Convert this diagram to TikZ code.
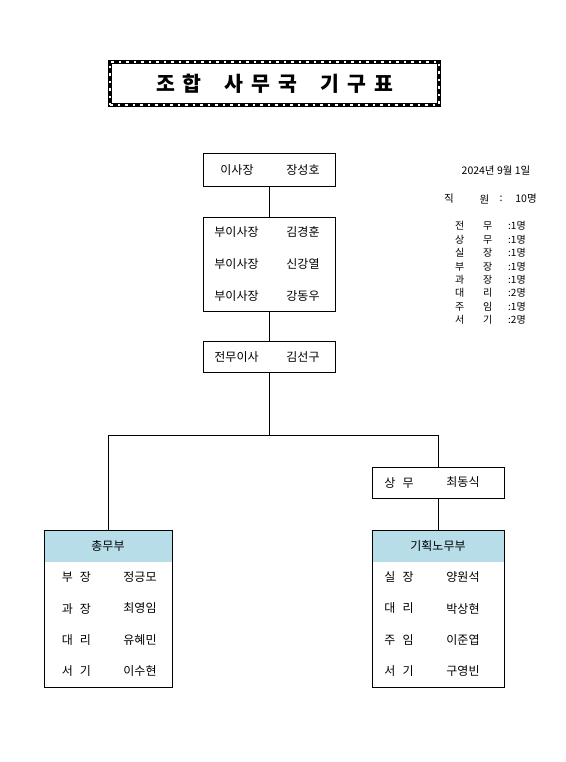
\documentclass[tikz,border=0pt]{standalone}
\usepackage{fontspec}
\setmainfont{Noto Sans CJK KR}
\usetikzlibrary{positioning}
\definecolor{headblue}{RGB}{183,221,232}
\newcommand{\kgap}{\hspace{7pt}}
\newcommand{\tgap}{\hspace{8pt}}
\newcommand{\wgap}{\hspace{23pt}}
\newcommand{\staffrow}[3]{\makebox[28pt][l]{#1}\makebox[25pt][l]{#2}:#3명}

\begin{document}
\begin{tikzpicture}[x=1pt, y=-1pt,
  box/.style={rectangle, draw=black, line width=1pt, inner sep=0pt, minimum width=132pt},
  headbox/.style={rectangle, fill=headblue, inner sep=0pt, minimum height=32pt,
    font=\fontsize{12}{14}\selectfont},
  titlebox/.style={rectangle, draw=black, line width=4pt, inner sep=0pt,
    minimum width=329pt, minimum height=43pt, font=\fontsize{20.5}{22}\selectfont\bfseries,
    postaction={draw=white, line width=2pt, dash pattern=on 2.5pt off 5pt}},
  lbl/.style={inner sep=0pt, font=\fontsize{12}{14}\selectfont},
  note/.style={inner sep=0pt, font=\fontsize{10}{12}\selectfont},
  link/.style={line width=1pt},
]
\useasboundingbox (0,0) rectangle (565,762);

%% -- Title --
\node[titlebox] (title) at (274.5,83.5)
  {조\tgap 합\wgap 사\tgap 무\tgap 국\wgap 기\tgap 구\tgap 표};

%% -- Top chain --
\node[box, minimum height=32pt] (chair) at (269,170)   {};
\node[box, minimum height=94pt] (vice)  at (269,264)   {};
\node[box, minimum height=31pt] (exec)  at (269,357)   {};
\node[box, minimum height=31pt] (sangmu) at (438,482.5) {};

\node[lbl] (chairpos)  at (237,170)   {이사장};
\node[lbl] (chairname) at (303,170)   {장성호};
\node[lbl] (vicepos1)  at (236.5,232) {부이사장};
\node[lbl] (vicename1) at (303,232)   {김경훈};
\node[lbl] (vicepos2)  at (236.5,264) {부이사장};
\node[lbl] (vicename2) at (303,264)   {신강열};
\node[lbl] (vicepos3)  at (236.5,296) {부이사장};
\node[lbl] (vicename3) at (303,296)   {강동우};
\node[lbl] (execpos)   at (236.5,357) {전무이사};
\node[lbl] (execname)  at (303,357)   {김선구};
\node[lbl] (sangmupos) at (399,482.5) {상\kgap 무};
\node[lbl] (sangmuname) at (463,482.5) {최동식};

%% -- Departments --
\node[headbox, minimum width=128pt] (genhead)  at (108,546) {총무부};
\node[headbox, minimum width=132pt] (planhead) at (438,546) {기획노무부};
\node[box, minimum width=128pt, minimum height=157pt] (gen)  at (108,608.5) {};
\node[box, minimum height=157pt] (plan) at (438,608.5) {};

\node[lbl] (genpos1)  at (76.5,577)   {부\kgap 장};
\node[lbl] (genname1) at (140,577)    {정긍모};
\node[lbl] (genpos2)  at (76.5,608.5) {과\kgap 장};
\node[lbl] (genname2) at (140,608.5)  {최영임};
\node[lbl] (genpos3)  at (76.5,640)   {대\kgap 리};
\node[lbl] (genname3) at (140,640)    {유혜민};
\node[lbl] (genpos4)  at (76.5,671.5) {서\kgap 기};
\node[lbl] (genname4) at (140,671.5)  {이수현};

\node[lbl] (planpos1)  at (399,577)   {실\kgap 장};
\node[lbl] (planname1) at (463,577)   {양원석};
\node[lbl] (planpos2)  at (399,608.5) {대\kgap 리};
\node[lbl] (planname2) at (463,608.5) {박상현};
\node[lbl] (planpos3)  at (399,640)   {주\kgap 임};
\node[lbl] (planname3) at (463,640)   {이준엽};
\node[lbl] (planpos4)  at (399,671.5) {서\kgap 기};
\node[lbl] (planname4) at (463,671.5) {구영빈};

%% -- Connectors --
\coordinate (split) at (269,435.5);
\draw[link] (chair) -- (vice);
\draw[link] (vice) -- (exec);
\draw[link] (exec) -- (split);
\draw[link] (gen.north) |- (split) -| (sangmu.north);
\draw[link] (sangmu) -- (plan);

%% -- Staff summary --
\node[note, font=\fontsize{10.5}{12}\selectfont] (date) at (496,171) {2024년 9월 1일};
\node[note, font=\fontsize{10.5}{12}\selectfont] (totalA) at (449,199) {직};
\node[note, font=\fontsize{10.5}{12}\selectfont] (totalB) at (484.5,199) {원};
\node[note, font=\fontsize{10.5}{12}\selectfont] (totalC) at (501,199) {:};
\node[note, font=\fontsize{10.5}{12}\selectfont] (totalD) at (526,199) {10명};
\node[note, anchor=west] (row1) at (455,226)   {\staffrow{전}{무}{1}};
\node[note, anchor=west] (row2) at (455,239.4) {\staffrow{상}{무}{1}};
\node[note, anchor=west] (row3) at (455,252.9) {\staffrow{실}{장}{1}};
\node[note, anchor=west] (row4) at (455,266.3) {\staffrow{부}{장}{1}};
\node[note, anchor=west] (row5) at (455,279.7) {\staffrow{과}{장}{1}};
\node[note, anchor=west] (row6) at (455,293.1) {\staffrow{대}{리}{2}};
\node[note, anchor=west] (row7) at (455,306.6) {\staffrow{주}{임}{1}};
\node[note, anchor=west] (row8) at (455,320)   {\staffrow{서}{기}{2}};
\end{tikzpicture}
\end{document}
